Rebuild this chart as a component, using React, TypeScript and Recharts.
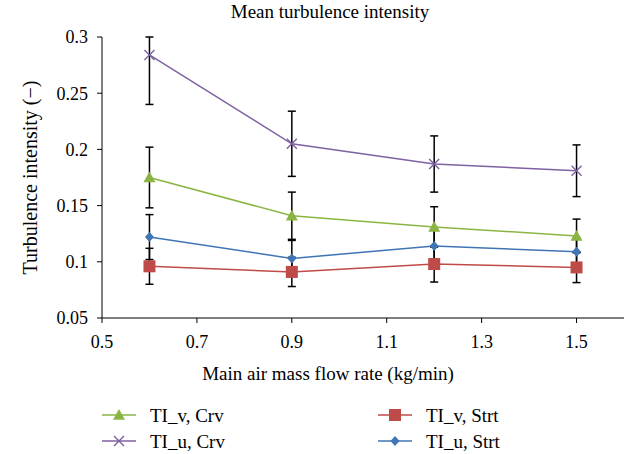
import React from 'react';
import { LineChart, Line, XAxis, YAxis, ErrorBar, Legend, Label } from 'recharts';

// ---- data ----
const flowRates = [0.6, 0.9, 1.2, 1.5];
const tiVCrv = [0.175, 0.141, 0.131, 0.123];
const tiVCrvErr = [0.027, 0.021, 0.018, 0.015];
const tiUCrv = [0.284, 0.205, 0.187, 0.181];
// [below, above]; the first bar is cut off by the top of the plot at 0.3
const tiUCrvErr = [[0.044, 0.016], [0.029, 0.029], [0.025, 0.025], [0.023, 0.023]];
const tiVStrt = [0.096, 0.091, 0.098, 0.095];
const tiVStrtErr = [0.016, 0.013, 0.016, 0.0135];
const tiUStrt = [0.122, 0.103, 0.114, 0.109];
const tiUStrtErr = [0.02, 0.016, 0.015, 0.012];
const xTicks = [0.5, 0.7, 0.9, 1.1, 1.3, 1.5];
const yTicks = [0.05, 0.1, 0.15, 0.2, 0.25, 0.3];
const seriesNames = ['TI_v, Crv', 'TI_u, Crv', 'TI_v, Strt', 'TI_u, Strt'];

const GREEN = '#8BB543';
const PURPLE = '#7E62A1';
const RED = '#BE4B48';
const BLUE = '#3F75B5';
const FONT = '"Liberation Serif", "Times New Roman", serif';

const data = flowRates.map((x, i) => ({
  x,
  vc: tiVCrv[i],
  vcErr: tiVCrvErr[i],
  uc: tiUCrv[i],
  ucErr: tiUCrvErr[i],
  vs: tiVStrt[i],
  vsErr: tiVStrtErr[i],
  us: tiUStrt[i],
  usErr: tiUStrtErr[i],
}));

const Marker = ({ shape, cx, cy }: { shape: string; cx: number; cy: number }) => {
  if (shape === 'triangle') {
    const s = 6;
    return <path d={`M${cx},${cy - s} L${cx + s},${cy + s * 0.8} L${cx - s},${cy + s * 0.8} Z`} fill={GREEN} />;
  }
  if (shape === 'x') {
    const s = 5;
    return (
      <g stroke={PURPLE} strokeWidth={1.4}>
        <line x1={cx - s} y1={cy - s} x2={cx + s} y2={cy + s} />
        <line x1={cx - s} y1={cy + s} x2={cx + s} y2={cy - s} />
      </g>
    );
  }
  if (shape === 'square') {
    const s = 6;
    return <rect x={cx - s} y={cy - s} width={s * 2} height={s * 2} fill={RED} />;
  }
  const s = 5;
  return <path d={`M${cx},${cy - s} L${cx + s * 0.9},${cy} L${cx},${cy + s} L${cx - s * 0.9},${cy} Z`} fill={BLUE} />;
};

const makeDot = (shape: string) => (props: any) => {
  const { cx, cy, index } = props;
  if (cx == null || cy == null) return <g key={`${shape}-${index}`} />;
  return (
    <g key={`${shape}-${index}`}>
      <Marker shape={shape} cx={cx} cy={cy} />
    </g>
  );
};

const legendItems = [
  { name: seriesNames[0], color: GREEN, shape: 'triangle', col: 0, row: 0 },
  { name: seriesNames[1], color: PURPLE, shape: 'x', col: 0, row: 1 },
  { name: seriesNames[2], color: RED, shape: 'square', col: 1, row: 0 },
  { name: seriesNames[3], color: BLUE, shape: 'diamond', col: 1, row: 1 },
];

const renderLegend = () => (
  <svg width={630} height={54} style={{ display: 'block' }}>
    {legendItems.map((it) => {
      const x0 = it.col === 0 ? 102 : 378;
      const y0 = it.row === 0 ? 15 : 41;
      return (
        <g key={it.name}>
          <line x1={x0} y1={y0} x2={x0 + 34} y2={y0} stroke={it.color} strokeWidth={1.5} />
          <Marker shape={it.shape} cx={x0 + 17} cy={y0} />
          <text x={x0 + 48} y={y0} dy="0.35em" fontFamily={FONT} fontSize={19} fill="#000">
            {it.name}
          </text>
        </g>
      );
    })}
  </svg>
);

const tickStyle = { fontFamily: FONT, fontSize: 18, fill: '#000' };

export default function App() {
  return (
    <div style={{ position: 'absolute', left: 0, top: 0, width: 630, height: 454, background: '#fff' }}>
      <div
        style={{
          position: 'absolute',
          left: 0,
          top: 1,
          width: 660,
          textAlign: 'center',
          fontFamily: FONT,
          fontSize: 19,
          color: '#000',
        }}
      >
        Mean turbulence intensity
      </div>
      <LineChart width={630} height={454} data={data} margin={{ top: 37, right: 6, left: 0, bottom: 56 }}>
        <XAxis
          dataKey="x"
          type="number"
          domain={[0.5, 1.6]}
          ticks={xTicks}
          allowDataOverflow
          tick={tickStyle}
          tickSize={5}
          tickMargin={12}
          stroke="#000"
          axisLine={{ stroke: '#000' }}
          tickLine={{ stroke: '#000' }}
          height={80}
        >
          <Label
            content={(props: any) => {
              const vb = props.viewBox;
              return (
                <text x={328} y={vb.y + 55} textAnchor="middle" dy="0.35em" fontFamily={FONT} fontSize={19} fill="#000">
                  Main air mass flow rate (kg/min)
                </text>
              );
            }}
          />
        </XAxis>
        <YAxis
          type="number"
          domain={[0.05, 0.3]}
          ticks={yTicks}
          allowDataOverflow
          tick={tickStyle}
          tickSize={5}
          tickMargin={9}
          width={102}
          axisLine={{ stroke: '#000' }}
          tickLine={{ stroke: '#000' }}
        >
          <Label
            content={(props: any) => {
              const vb = props.viewBox;
              const cy = vb.y + vb.height / 2;
              return (
                <text
                  x={30}
                  y={cy}
                  transform={`rotate(-90, 30, ${cy})`}
                  textAnchor="middle"
                  dy="0.35em"
                  fontFamily={FONT}
                  fontSize={20}
                  fill="#000"
                >
                  Turbulence intensity (−)
                </text>
              );
            }}
          />
        </YAxis>
        <Legend
          layout="horizontal"
          verticalAlign="middle"
          align="center"
          wrapperStyle={{ left: 0, top: 400, width: 630, height: 54 }}
          content={renderLegend}
        />
        <Line
          dataKey="vc"
          name={seriesNames[0]}
          stroke={GREEN}
          strokeWidth={1.5}
          isAnimationActive={false}
          dot={makeDot('triangle')}
          activeDot={false}
        >
          <ErrorBar dataKey="vcErr" direction="y" width={4} stroke="#000" strokeWidth={1.5} />
        </Line>
        <Line
          dataKey="vs"
          name={seriesNames[2]}
          stroke={RED}
          strokeWidth={1.5}
          isAnimationActive={false}
          dot={makeDot('square')}
          activeDot={false}
        >
          <ErrorBar dataKey="vsErr" direction="y" width={4} stroke="#000" strokeWidth={1.5} />
        </Line>
        <Line
          dataKey="uc"
          name={seriesNames[1]}
          stroke={PURPLE}
          strokeWidth={1.5}
          isAnimationActive={false}
          dot={makeDot('x')}
          activeDot={false}
        >
          <ErrorBar dataKey="ucErr" direction="y" width={4} stroke="#000" strokeWidth={1.5} />
        </Line>
        <Line
          dataKey="us"
          name={seriesNames[3]}
          stroke={BLUE}
          strokeWidth={1.5}
          isAnimationActive={false}
          dot={makeDot('diamond')}
          activeDot={false}
        >
          <ErrorBar dataKey="usErr" direction="y" width={4} stroke="#000" strokeWidth={1.5} />
        </Line>
      </LineChart>
    </div>
  );
}
